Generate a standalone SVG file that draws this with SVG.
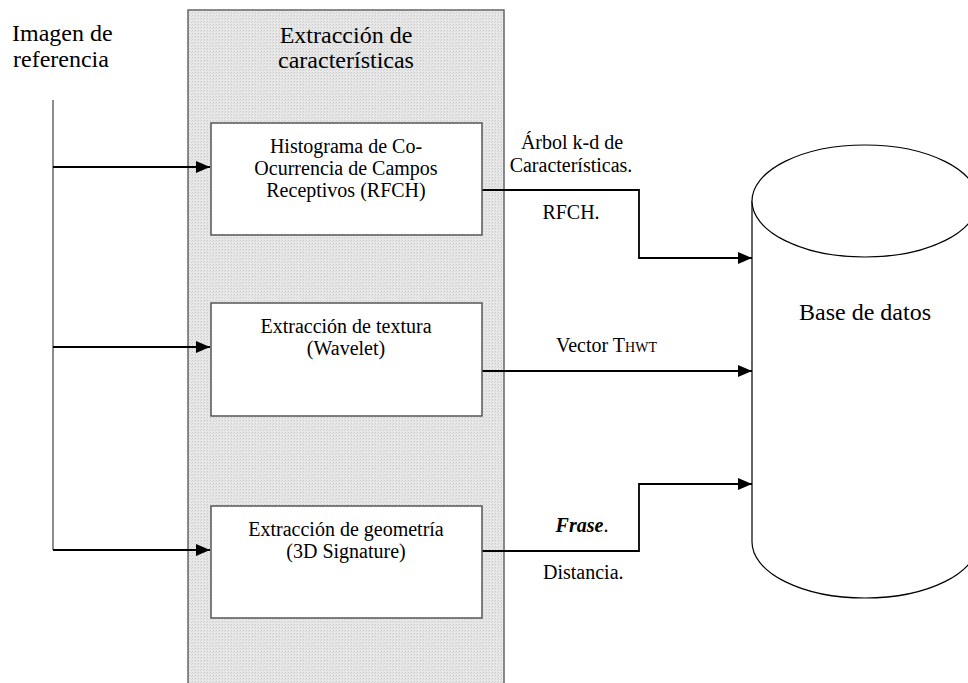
<svg xmlns="http://www.w3.org/2000/svg" width="968" height="683" viewBox="0 0 968 683" font-family="'Liberation Serif', 'Times New Roman', 'DejaVu Serif', serif">
<defs>
<pattern id="dots" width="3" height="3" patternUnits="userSpaceOnUse">
<rect width="3" height="3" fill="#e8e8e8"/>
<rect width="1" height="1" fill="#c8c8c8"/>
<rect x="2" y="1" width="1" height="1" fill="#d4d4d4"/>
</pattern>
<marker id="arr" markerWidth="14" markerHeight="12" refX="14" refY="6" orient="auto" markerUnits="userSpaceOnUse">
<path d="M0,0 L14,6 L0,12 Z" fill="#000"/>
</marker>
</defs>
<style>
text{font-family:'Liberation Serif','Times New Roman','DejaVu Serif',serif;fill:#000}
.big{font-size:24px}
.mid{font-size:20px}
.box{fill:#fff;stroke:#555;stroke-width:1.5}
.con{fill:none;stroke:#000;stroke-width:1.8}
</style>
<rect width="968" height="683" fill="#fff"/>
<g id="panel">
<rect x="188" y="10" width="316" height="690" fill="url(#dots)" stroke="#666" stroke-width="1.5"/>
<text class="big" x="346" y="43" text-anchor="middle">Extracción de</text>
<text class="big" x="346" y="68" text-anchor="middle">características</text>
</g>
<g id="input">
<text class="big" x="12" y="41">Imagen de</text>
<text class="big" x="13" y="67">referencia</text>
</g>
<g id="connectors">
<line x1="53" y1="100" x2="53" y2="550" stroke="#666" stroke-width="1.5"/>
<line class="con" x1="53" y1="167" x2="210" y2="167" marker-end="url(#arr)"/>
<line class="con" x1="53" y1="347" x2="210" y2="347" marker-end="url(#arr)"/>
<line class="con" x1="53" y1="550" x2="210" y2="550" marker-end="url(#arr)"/>
<polyline class="con" points="482,190 639,190 639,258 752,258" marker-end="url(#arr)"/>
<line class="con" x1="482" y1="371" x2="752" y2="371" marker-end="url(#arr)"/>
<polyline class="con" points="482,551 639,551 639,484 752,484" marker-end="url(#arr)"/>
<text class="mid" x="572" y="149" text-anchor="middle">Árbol k-d de</text>
<text class="mid" x="571" y="172" text-anchor="middle">Características.</text>
<text class="mid" x="571" y="219" text-anchor="middle">RFCH.</text>
<text class="mid" x="556" y="352">Vector T<tspan font-size="14">HWT</tspan></text>
<text class="mid" x="582" y="532" text-anchor="middle"><tspan font-style="italic" font-weight="bold">Frase</tspan>.</text>
<text class="mid" x="543" y="579">Distancia.</text>
</g>
<g id="rfch">
<rect class="box" x="211" y="123" width="271" height="112"/>
<text class="mid" x="346" y="153" text-anchor="middle">Histograma de Co-</text>
<text class="mid" x="346" y="175" text-anchor="middle">Ocurrencia de Campos</text>
<text class="mid" x="346" y="197" text-anchor="middle">Receptivos (RFCH)</text>
</g>
<g id="textura">
<rect class="box" x="211" y="303" width="271" height="113"/>
<text class="mid" x="346" y="333" text-anchor="middle">Extracción de textura</text>
<text class="mid" x="346" y="355" text-anchor="middle">(Wavelet)</text>
</g>
<g id="geometria">
<rect class="box" x="211" y="506" width="271" height="112"/>
<text class="mid" x="346" y="536" text-anchor="middle">Extracción de geometría</text>
<text class="mid" x="346" y="558" text-anchor="middle">(3D Signature)</text>
</g>
<g id="db">
<path d="M752,201 L752,542 A113,56 0 0 0 978,542 L978,201" fill="#fff" stroke="#000" stroke-width="1.2"/>
<ellipse cx="865" cy="201" rx="113" ry="56" fill="#fff" stroke="#000" stroke-width="1.2"/>
<text class="big" x="865" y="320" text-anchor="middle">Base de datos</text>
</g>
</svg>
